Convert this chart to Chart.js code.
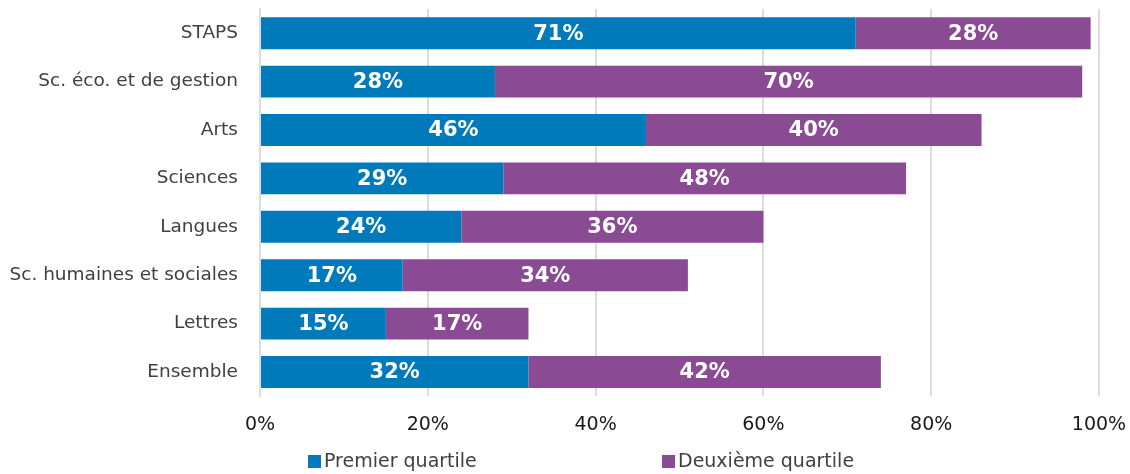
<!DOCTYPE html>
<html>
<head>
<meta charset="utf-8">
<script src="https://cdn.jsdelivr.net/npm/chart.js@4.4.1/dist/chart.umd.min.js"></script>
<style>
  html, body { margin: 0; padding: 0; background: #fff; }
  #wrap { width: 1130px; height: 474px; }
</style>
</head>
<body>
<div id="wrap"><canvas id="quartileChart"></canvas></div>
<script>
// Data
const categories = ['STAPS', 'Sc. éco. et de gestion', 'Arts', 'Sciences', 'Langues', 'Sc. humaines et sociales', 'Lettres', 'Ensemble'];
const premierQuartile = [71, 28, 46, 29, 24, 17, 15, 32];
const deuxiemeQuartile = [28, 70, 40, 48, 36, 34, 17, 42];
const seriesNames = ['Premier quartile', 'Deuxième quartile'];
const seriesColors = ['#017abb', '#8a4a94'];

const FONT = '"DejaVu Sans", Verdana, sans-serif';

// white bold value labels in the middle of each bar segment
const barLabels = {
    id: 'barLabels',
    afterDatasetsDraw(chart) {
        const ctx = chart.ctx;
        ctx.save();
        ctx.fillStyle = '#ffffff';
        ctx.font = 'bold 21px ' + FONT;
        ctx.textAlign = 'center';
        ctx.textBaseline = 'middle';
        chart.data.datasets.forEach((ds, i) => {
            chart.getDatasetMeta(i).data.forEach((bar, j) => {
                const cx = (bar.x + bar.base) / 2;
                ctx.fillText(ds.data[j] + '%', cx, bar.y + 1);
            });
        });
        ctx.restore();
    }
};

// legend drawn under the axis, spaced out like the original
const wideLegend = {
    id: 'wideLegend',
    afterDraw(chart) {
        const ctx = chart.ctx;
        const starts = [308, 662];
        const y = 462;
        ctx.save();
        ctx.font = '19px ' + FONT;
        ctx.textBaseline = 'middle';
        ctx.textAlign = 'left';
        chart.data.datasets.forEach((ds, i) => {
            ctx.fillStyle = ds.backgroundColor;
            ctx.fillRect(starts[i], y - 7, 13, 13);
            ctx.fillStyle = '#404040';
            ctx.fillText(ds.label, starts[i] + 16, y);
        });
        ctx.restore();
    }
};

const quartileChart = new Chart(document.getElementById('quartileChart'), {
    type: 'bar',
    data: {
        labels: categories,
        datasets: [
            {
                label: seriesNames[0],
                data: premierQuartile,
                backgroundColor: seriesColors[0],
                borderWidth: 0,
                barPercentage: 0.66,
                categoryPercentage: 1,
            },
            {
                label: seriesNames[1],
                data: deuxiemeQuartile,
                backgroundColor: seriesColors[1],
                borderWidth: 0,
                barPercentage: 0.66,
                categoryPercentage: 1,
            },
        ],
    },
    options: {
        indexAxis: 'y',
        responsive: true,
        maintainAspectRatio: false,
        animation: false,
        layout: { padding: { top: 9, right: 31, bottom: 21, left: 0 } },
        scales: {
            x: {
                stacked: true,
                min: 0,
                max: 100,
                ticks: {
                    stepSize: 20,
                    padding: 17,
                    color: '#1a1a1a',
                    font: { family: FONT, size: 19 },
                    callback: (v) => v + '%',
                },
                grid: { color: '#dcdcdc', lineWidth: 2, drawTicks: false },
                border: { display: false },
                afterFit(scale) { scale.paddingLeft = 0; scale.paddingRight = 0; },
            },
            y: {
                stacked: true,
                ticks: {
                    padding: 14,
                    color: '#404040',
                    font: { family: FONT, size: 18.5 },
                },
                grid: { display: false },
                border: { color: '#dcdcdc', width: 2 },
                afterFit(scale) { scale.width = 260; scale.paddingTop = 0; scale.paddingBottom = 0; },
            },
        },
        plugins: {
            legend: { display: false },
            tooltip: { enabled: false },
        },
    },
    plugins: [barLabels, wideLegend],
});
</script>
</body>
</html>
